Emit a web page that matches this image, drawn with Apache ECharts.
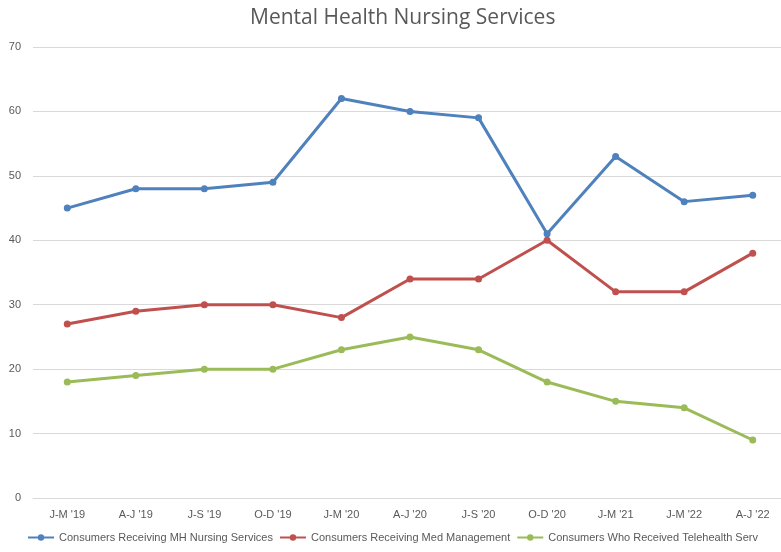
<!DOCTYPE html>
<html>
<head>
<meta charset="utf-8">
<title>Mental Health Nursing Services</title>
<script src="https://cdn.jsdelivr.net/npm/echarts@6/dist/echarts.min.js"></script>
<style>
  html, body { margin: 0; padding: 0; background: #fff; overflow: hidden; }
  #main { width: 787px; height: 552px; }
</style>
</head>
<body>
<div id="main"></div>
<script>
// quarters on the x axis
var quarters = ["J-M '19", "A-J '19", "J-S '19", "O-D '19", "J-M '20", "A-J '20", "J-S '20", "O-D '20", "J-M '21", "J-M '22", "A-J '22"];
// series values
var nursing = [45, 48, 48, 49, 62, 60, 59, 41, 53, 46, 47];
var medMgmt = [27, 29, 30, 30, 28, 34, 34, 40, 32, 32, 38];
var telehealth = [18, 19, 20, 20, 23, 25, 23, 18, 15, 14, 9];
var seriesNames = ['Consumers Receiving MH Nursing Services', 'Consumers Receiving Med Management', 'Consumers Who Received Telehealth Serv'];
var colors = ['#4F81BD', '#C0504D', '#9BBB59'];

var myChart = echarts.init(document.getElementById('main'));

function lineSeries(name, data, color) {
    return {
        name: name,
        type: 'line',
        data: data,
        symbol: 'circle',
        symbolSize: 7,
        lineStyle: { width: 3, color: color },
        itemStyle: { color: color },
        emphasis: { disabled: true }
    };
}

var option = {
    animation: false,
    textStyle: { fontFamily: 'Liberation Sans' },
    title: {
        text: 'Mental Health Nursing Services',
        left: 245,
        top: 3,
        textStyle: { fontSize: 21, fontWeight: 'normal', color: '#595959', fontFamily: 'Open Sans' }
    },
    legend: {
        bottom: 4,
        left: 22,
        itemWidth: 26,
        itemHeight: 8,
        itemGap: 6,
        textStyle: { fontSize: 11, color: '#595959' },
        data: seriesNames
    },
    grid: { left: 33, top: 47, right: 0, bottom: 54, containLabel: false },
    xAxis: {
        type: 'category',
        data: quarters,
        boundaryGap: true,
        axisLine: { lineStyle: { color: '#d9d9d9' } },
        axisTick: { show: false },
        axisLabel: { color: '#595959', fontSize: 11, margin: 11 }
    },
    yAxis: {
        type: 'value',
        min: 0,
        max: 70,
        interval: 10,
        axisLine: { show: false },
        axisTick: { show: false },
        axisLabel: { color: '#595959', fontSize: 11, margin: 12 },
        splitLine: { lineStyle: { color: '#d9d9d9' } }
    },
    series: [
        lineSeries(seriesNames[0], nursing, colors[0]),
        lineSeries(seriesNames[1], medMgmt, colors[1]),
        lineSeries(seriesNames[2], telehealth, colors[2])
    ]
};

myChart.setOption(option);
</script>
</body>
</html>
